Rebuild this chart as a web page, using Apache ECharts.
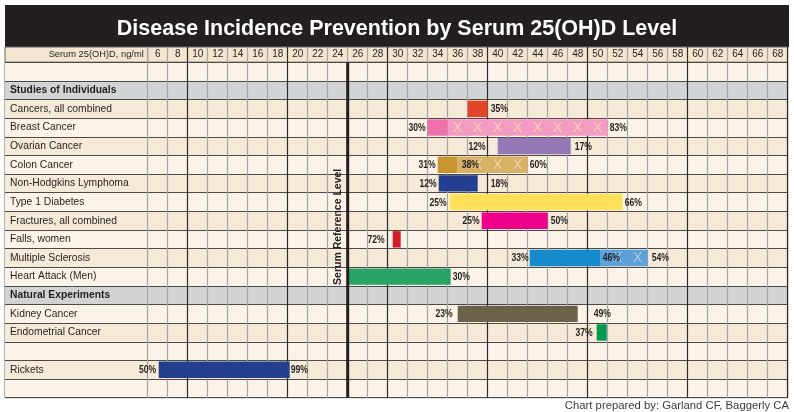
<!DOCTYPE html>
<html>
<head>
<meta charset="utf-8">
<script src="https://cdn.jsdelivr.net/npm/echarts@6/dist/echarts.min.js"></script>
<style>
html, body { margin: 0; padding: 0; background: #fff; }
#chart { width: 794px; height: 412px; }
</style>
</head>
<body>
<div id="chart"></div>
<script>
// rows of the table, top to bottom (blank rows are spacer rows)
var rowNames = [' ', 'Studies of Individuals', 'Cancers, all combined', 'Breast Cancer', 'Ovarian Cancer',
  'Colon Cancer', 'Non-Hodgkins Lymphoma', 'Type 1 Diabetes', 'Fractures, all combined', 'Falls, women',
  'Multiple Sclerosis', 'Heart Attack (Men)', 'Natural Experiments', 'Kidney Cancer', 'Endometrial Cancer',
  '  ', 'Rickets', '   '];
var sectionRows = ['Studies of Individuals', 'Natural Experiments'];

var headerLabel = 'Serum 25(OH)D, ng/ml';
var tickLabels = ['6', '8', '10', '12', '14', '16', '18', '20', '22', '24', '26', '28', '30', '32', '34', '36',
  '38', '40', '42', '44', '46', '48', '50', '52', '54', '56', '58', '60', '62', '64', '66', '68'];
var axisMin = 6, axisMax = 70;
var referenceLevel = 26;
var referenceText = 'Serum Reference Level';

// bar segments (ng/ml)
var barRow = ['Cancers, all combined', 'Breast Cancer', 'Breast Cancer', 'Ovarian Cancer', 'Colon Cancer',
  'Colon Cancer', 'Non-Hodgkins Lymphoma', 'Type 1 Diabetes', 'Fractures, all combined', 'Falls, women',
  'Multiple Sclerosis', 'Multiple Sclerosis', 'Heart Attack (Men)', 'Kidney Cancer', 'Endometrial Cancer', 'Rickets'];
var barFrom = [38, 34, 36, 41, 35, 37, 35.1, 36.2, 39.4, 30.5, 44.2, 51.3, 26, 37, 50.9, 7.1];
var barTo = [40, 36, 52, 48.3, 37, 44, 39, 53.5, 46, 31.3, 51.3, 56, 36.3, 49, 51.9, 20.2];
var barCrossed = [0, 0, 1, 0, 0, 1, 0, 0, 0, 0, 0, 1, 0, 0, 0, 0];

// percentage labels
var pctRow = ['Cancers, all combined', 'Breast Cancer', 'Breast Cancer', 'Ovarian Cancer', 'Ovarian Cancer',
  'Colon Cancer', 'Colon Cancer', 'Colon Cancer', 'Non-Hodgkins Lymphoma', 'Non-Hodgkins Lymphoma',
  'Type 1 Diabetes', 'Type 1 Diabetes', 'Fractures, all combined', 'Fractures, all combined', 'Falls, women',
  'Multiple Sclerosis', 'Multiple Sclerosis', 'Multiple Sclerosis', 'Heart Attack (Men)', 'Kidney Cancer',
  'Kidney Cancer', 'Endometrial Cancer', 'Rickets', 'Rickets'];
var pctText = ['35%', '30%', '83%', '12%', '17%', '31%', '38%', '60%', '12%', '18%', '25%', '66%', '25%', '50%',
  '72%', '33%', '46%', '54%', '30%', '23%', '49%', '37%', '50%', '99%'];
var pctAt = [40.3, 33.8, 52.2, 39.8, 48.7, 34.8, 37.4, 44.2, 34.9, 40.3, 35.9, 53.7, 39.2, 46.3, 29.7, 44.1,
  51.5, 56.4, 36.5, 36.5, 50.6, 50.5, 6.85, 20.3];
var pctSide = ['after', 'before', 'after', 'before', 'after', 'before', 'after', 'after', 'before', 'after',
  'before', 'after', 'before', 'after', 'before', 'before', 'after', 'after', 'after', 'before', 'after',
  'before', 'before', 'after'];

var FONT = 'Arial, "Liberation Sans", sans-serif';
var INK = '#231f20';

var solidColour = {
  'Cancers, all combined': '#e2462a', 'Breast Cancer': '#ef70ab', 'Ovarian Cancer': '#9677b5',
  'Colon Cancer': '#c9962f', 'Non-Hodgkins Lymphoma': '#243f8f', 'Type 1 Diabetes': '#ffe05b',
  'Fractures, all combined': '#ec008c', 'Falls, women': '#d41f2a', 'Multiple Sclerosis': '#168bcb',
  'Heart Attack (Men)': '#27a466', 'Kidney Cancer': '#6b624a', 'Endometrial Cancer': '#00994d', 'Rickets': '#233f8e'
};
var crossedColour = { 'Breast Cancer': '#f49bc4', 'Colon Cancer': '#d8b066', 'Multiple Sclerosis': '#5ea0d8' };
var crossMarkColour = { 'Breast Cancer': '#f3d2ae', 'Colon Cancer': '#efd7a8', 'Multiple Sclerosis': '#a9c9e6' };

var rowFill = rowNames.map(function (name, i) {
  if (sectionRows.indexOf(name) >= 0) return '#d1d3d4';
  if (i === 0) return '#fbf3e7';
  return i % 2 === 0 ? '#f5e9d7' : '#fbf3e7';
});

var lineColours = [];
for (var v = axisMin; v <= axisMax; v += 2) lineColours.push(v % 10 === 0 ? '#2b2b2b' : '#a5a5a5');

var barData = barRow.map(function (r, i) { return [rowNames.indexOf(r), barFrom[i], barTo[i]]; });
var pctData = pctRow.map(function (r, i) { return [rowNames.indexOf(r), pctAt[i]]; });

function renderBar(params, api) {
  var i = params.dataIndex;
  var row = api.value(0), from = api.value(1), to = api.value(2);
  var a = api.coord([from, row]), b = api.coord([to, row]);
  var h = api.size([0, 1])[1] * 0.88;
  var name = barRow[i];
  var children = [{
    type: 'rect',
    shape: { x: a[0], y: a[1] - h / 2, width: b[0] - a[0], height: h },
    style: { fill: barCrossed[i] ? crossedColour[name] : solidColour[name] }
  }];
  if (barCrossed[i]) {
    for (var c = Math.ceil(from / 2) * 2; c + 2 <= to + 1e-6; c += 2) {
      var p = api.coord([c + 1, row]);
      children.push({
        type: 'text', x: p[0], y: p[1] + 0.5,
        style: { text: 'X', fill: crossMarkColour[name], fontSize: 14, fontFamily: FONT,
          align: 'center', verticalAlign: 'middle' }
      });
    }
  }
  return { type: 'group', children: children };
}

// condensed bold figures, squeezed horizontally round their anchor
function renderPct(params, api) {
  var i = params.dataIndex;
  var p = api.coord([api.value(1), api.value(0)]);
  return {
    type: 'text', x: p[0], y: p[1] + 0.5, scaleX: 0.8,
    style: { text: pctText[i], fill: INK, fontSize: 10.8, fontWeight: 'bold', fontFamily: FONT,
      align: pctSide[i] === 'before' ? 'right' : 'left', verticalAlign: 'middle' }
  };
}

function renderReference(params, api) {
  var cs = params.coordSys;
  var x = api.coord([api.value(0), 0])[0];
  var band = api.size([0, 1])[1];
  var heart = rowNames.indexOf('Heart Attack (Men)');
  var t = api.coord([api.value(0) - 1, heart]);
  return {
    type: 'group',
    children: [
      { type: 'line', shape: { x1: x, y1: cs.y, x2: x, y2: cs.y + cs.height },
        style: { stroke: INK, lineWidth: 3 } },
      { type: 'text', x: t[0], y: t[1] + band / 2 - 1, rotation: Math.PI / 2,
        style: { text: referenceText, fill: INK, fontSize: 10.5, fontWeight: 'bold', fontFamily: FONT,
          align: 'left', verticalAlign: 'middle' } }
    ]
  };
}

var chart = echarts.init(document.getElementById('chart'));

var option = {
  animation: false,
  backgroundColor: '#ffffff',
  title: [{
    text: 'Disease Incidence Prevention by Serum 25(OH)D Level',
    left: 'center', top: 18, padding: 0,
    textStyle: { color: '#ffffff', fontSize: 21.5, fontWeight: 'bold', fontFamily: FONT }
  }, {
    text: 'Chart prepared by: Garland CF, Baggerly CA',
    right: 5, bottom: 1, padding: 0,
    textStyle: { color: '#3a3a3a', fontSize: 11.3, fontWeight: 'normal', fontFamily: FONT }
  }],
  grid: [
    { left: 5, right: 5, top: 5, height: 42, show: true, backgroundColor: INK, borderWidth: 0, outerBoundsMode: 'none' },
    { left: 5, width: 142.7, top: 47, height: 15.3, show: true, backgroundColor: '#f3e5cf',
      borderColor: '#666', borderWidth: 1, outerBoundsMode: 'none' },
    { left: 147.7, right: 6.3, top: 47, height: 15.3, show: true, backgroundColor: '#f3e5cf',
      borderColor: '#666', borderWidth: 1, outerBoundsMode: 'none' },
    { left: 5, width: 142.7, top: 62.3, bottom: 14.3, show: true, backgroundColor: 'transparent',
      borderColor: '#666', borderWidth: 1, outerBoundsMode: 'none' },
    { left: 147.7, right: 6.3, top: 62.3, bottom: 14.3, show: true, backgroundColor: 'transparent',
      borderColor: '#666', borderWidth: 1, outerBoundsMode: 'none' }
  ],
  xAxis: [
    { gridIndex: 0, type: 'value', show: false },
    { gridIndex: 1, type: 'value', show: false },
    { gridIndex: 2, type: 'category', data: tickLabels, position: 'bottom',
      axisLine: { show: false }, axisTick: { show: false },
      axisLabel: { inside: true, margin: 3, interval: 0, fontSize: 10, color: INK, fontFamily: FONT },
      splitLine: { show: true, interval: 0, lineStyle: { color: lineColours, width: 1.2 } } },
    { gridIndex: 3, type: 'value', show: false },
    { gridIndex: 4, type: 'value', min: axisMin, max: axisMax, interval: 2,
      axisLine: { show: false }, axisTick: { show: false }, axisLabel: { show: false },
      splitLine: { show: true, lineStyle: { color: lineColours, width: 1.2 } } }
  ],
  yAxis: [
    { gridIndex: 0, type: 'value', show: false },
    { gridIndex: 1, type: 'category', data: [headerLabel], position: 'right',
      axisLine: { show: false }, axisTick: { show: false },
      axisLabel: { inside: true, margin: 4, fontSize: 9.3, color: INK, fontFamily: FONT } },
    { gridIndex: 2, type: 'value', show: false },
    { gridIndex: 3, type: 'category', data: rowNames, inverse: true,
      axisLine: { show: false }, axisTick: { show: false },
      axisLabel: {
        inside: true, margin: 5, interval: 0, fontSize: 10.3, color: INK, fontFamily: FONT,
        formatter: function (v) { return sectionRows.indexOf(v) >= 0 ? '{s|' + v + '}' : v; },
        rich: { s: { fontWeight: 'bold', fontSize: 10.3, color: INK, fontFamily: FONT } }
      },
      splitLine: { show: true, interval: 0, lineStyle: { color: '#4a4a4a', width: 1.2 } },
      splitArea: { show: true, interval: 0, areaStyle: { color: rowFill } } },
    { gridIndex: 4, type: 'category', data: rowNames, inverse: true,
      axisLine: { show: false }, axisTick: { show: false }, axisLabel: { show: false },
      splitLine: { show: true, interval: 0, lineStyle: { color: '#4a4a4a', width: 1.2 } },
      splitArea: { show: true, interval: 0, areaStyle: { color: rowFill } } }
  ],
  series: [
    { type: 'custom', name: 'bars', xAxisIndex: 4, yAxisIndex: 4, encode: { x: [1, 2], y: 0 },
      renderItem: renderBar, data: barData, silent: true, z: 3 },
    { type: 'custom', name: 'reference', xAxisIndex: 4, yAxisIndex: 4, encode: { x: 0 },
      renderItem: renderReference, data: [[referenceLevel]], silent: true, z: 4 },
    { type: 'custom', name: 'pct', xAxisIndex: 4, yAxisIndex: 4, encode: { x: 1, y: 0 },
      renderItem: renderPct, data: pctData, silent: true, z: 5 }
  ]
};

chart.setOption(option);
</script>
</body>
</html>
